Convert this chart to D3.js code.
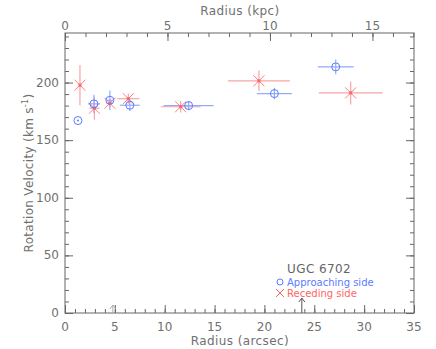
<!DOCTYPE html>
<html>
<head>
<meta charset="utf-8">
<script src="https://cdn.jsdelivr.net/npm/d3@7"></script>
<style>
  body { margin: 0; background: #fff; }
  svg text { font-family: "DejaVu Sans", sans-serif; fill: #707070; }
</style>
</head>
<body>
<div id="chart"></div>
<script>
// approaching side (blue circles)
const appRadius = [1.3, 2.9, 4.5, 6.5, 12.4, 21.0, 27.15];
const appVel    = [167, 181.5, 184.6, 180.3, 180, 190.4, 213.6];
const appErrR   = [0, 0.6, 0.3, 1.0, 2.5, 1.75, 1.8];
const appErrV   = [0, 8, 8.5, 5, 4, 5, 6.5];

// receding side (red crosses)
const recRadius = [1.5, 2.95, 4.5, 6.35, 11.6, 19.45, 28.65];
const recVel    = [197.7, 177.7, 182, 186, 179, 201.5, 191];
const recErrR   = [0, 0.5, 0.3, 1.1, 2.0, 3.1, 3.2];
const recErrV   = [17.5, 10, 3.5, 4.5, 5, 9, 10];

const kpcPerArcsec = 0.4865;
const xTicks = [0, 5, 10, 15, 20, 25, 30, 35];
const kpcTicks = [0, 5, 10, 15];
const yTicks = [0, 50, 100, 150, 200];
const arrowsGray = [4.8];
const arrowsDark = [23.75];

const width = 436, height = 349;
const margin = {left: 65, right: 22, top: 33, bottom: 36};

const svg = d3.select("#chart").append("svg")
    .attr("width", width)
    .attr("height", height);

const x = d3.scaleLinear().domain([0, 35]).range([margin.left, width - margin.right]);
const xk = d3.scaleLinear().domain([0, 35 * kpcPerArcsec]).range([margin.left, width - margin.right]);
const y = d3.scaleLinear().domain([0, 243]).range([height - margin.bottom, margin.top]);

const axisColor = "#666";

// frame
svg.append("rect")
    .attr("x", margin.left).attr("y", margin.top)
    .attr("width", width - margin.left - margin.right)
    .attr("height", height - margin.top - margin.bottom)
    .attr("fill", "none").attr("stroke", axisColor).attr("stroke-width", 1);

// bottom axis (ticks inward)
svg.append("g")
    .attr("transform", "translate(0," + y(0) + ")")
    .call(d3.axisTop(x).tickValues(d3.range(0, 36, 1)).tickSize(4).tickFormat(""))
    .call(g => g.select(".domain").remove());
svg.append("g")
    .attr("transform", "translate(0," + y(0) + ")")
    .call(d3.axisTop(x).tickValues(xTicks).tickSize(8).tickFormat(""))
    .call(g => g.select(".domain").remove());
svg.selectAll(".xlab").data(xTicks).enter().append("text")
    .attr("x", d => x(d)).attr("y", y(0) + 18)
    .attr("text-anchor", "middle").style("font-size", "12px")
    .text(d => d);

// top axis in kpc
svg.append("g")
    .attr("transform", "translate(0," + margin.top + ")")
    .call(d3.axisBottom(xk).tickValues(d3.range(0, 18, 1)).tickSize(4).tickFormat(""))
    .call(g => g.select(".domain").remove());
svg.append("g")
    .attr("transform", "translate(0," + margin.top + ")")
    .call(d3.axisBottom(xk).tickValues(kpcTicks).tickSize(8).tickFormat(""))
    .call(g => g.select(".domain").remove());
svg.selectAll(".klab").data(kpcTicks).enter().append("text")
    .attr("x", d => xk(d)).attr("y", margin.top - 3)
    .attr("text-anchor", "middle").style("font-size", "12px")
    .text(d => d);

// left / right axes
[[margin.left, d3.axisRight], [width - margin.right, d3.axisLeft]].forEach(([px, ax]) => {
    svg.append("g")
        .attr("transform", "translate(" + px + ",0)")
        .call(ax(y).tickValues(d3.range(0, 241, 10)).tickSize(4).tickFormat(""))
        .call(g => g.select(".domain").remove());
    svg.append("g")
        .attr("transform", "translate(" + px + ",0)")
        .call(ax(y).tickValues(yTicks).tickSize(8).tickFormat(""))
        .call(g => g.select(".domain").remove());
});
svg.selectAll(".ylab").data(yTicks).enter().append("text")
    .attr("x", margin.left - 6).attr("y", d => y(d) + 4)
    .attr("text-anchor", "end").style("font-size", "12px")
    .text(d => d);
svg.selectAll(".tick line").attr("stroke", axisColor);

// axis titles
svg.append("text").attr("x", 240).attr("y", 15)
    .attr("text-anchor", "middle").style("font-size", "12px")
    .style("letter-spacing", "0.4px").text("Radius (kpc)");
svg.append("text").attr("x", 240).attr("y", 345)
    .attr("text-anchor", "middle").style("font-size", "12px")
    .style("letter-spacing", "0.4px").text("Radius (arcsec)");
const yt = svg.append("text")
    .attr("transform", "translate(33," + (margin.top + (height - margin.top - margin.bottom) / 2) + ") rotate(-90)")
    .attr("text-anchor", "middle").style("font-size", "12px")
    .style("letter-spacing", "0.3px");
yt.append("tspan").text("Rotation Velocity (km s");
yt.append("tspan").attr("dy", -5).style("font-size", "8px").text("-1");
yt.append("tspan").attr("dy", 5).text(")");

const blue = "#5a7cff", blueLight = "#93aaff";
const red = "#ff6464", redLight = "#f7a4a4";

// error bars
function errBars(rs, vs, er, ev, col) {
    const g = svg.append("g").attr("stroke", col).attr("stroke-width", 1.2);
    rs.forEach((r, i) => {
        if (er[i] > 0) g.append("line")
            .attr("x1", x(r - er[i])).attr("x2", x(r + er[i]))
            .attr("y1", y(vs[i])).attr("y2", y(vs[i]));
        if (ev[i] > 0) g.append("line")
            .attr("x1", x(r)).attr("x2", x(r))
            .attr("y1", y(vs[i] - ev[i])).attr("y2", y(vs[i] + ev[i]));
    });
}
errBars(recRadius, recVel, recErrR, recErrV, redLight);
errBars(appRadius, appVel, appErrR, appErrV, blueLight);

// receding crosses
const rec = svg.append("g");
recRadius.forEach((r, i) => {
    const cx = x(r), cy = y(recVel[i]), s = 5.5;
    rec.append("path")
        .attr("d", `M${cx - s},${cy - s}L${cx + s},${cy + s}M${cx - s},${cy + s}L${cx + s},${cy - s}`)
        .attr("stroke", "#ff8080").attr("stroke-width", 1).attr("fill", "none");
    rec.append("rect").attr("x", cx - 1.5).attr("y", cy - 1.5)
        .attr("width", 3).attr("height", 3).attr("fill", red);
});

// approaching circles
const app = svg.append("g");
appRadius.forEach((r, i) => {
    app.append("circle")
        .attr("cx", x(r)).attr("cy", y(appVel[i])).attr("r", 4)
        .attr("fill", "none").attr("stroke", blue).attr("stroke-width", 1);
});
app.append("circle").attr("cx", x(appRadius[0])).attr("cy", y(appVel[0]))
    .attr("r", 1).attr("fill", blue);

// arrows at the bottom
function arrow(r, len, col) {
    const ax = x(r), y0 = y(0), y1 = y0 - len;
    svg.append("path")
        .attr("d", `M${ax},${y0}L${ax},${y1}M${ax - 3},${y1 + 4}L${ax},${y1}L${ax + 3},${y1 + 4}`)
        .attr("stroke", col).attr("fill", "none").attr("stroke-width", 1);
}
arrowsGray.forEach(r => arrow(r, 8, "#aaa"));
arrowsDark.forEach(r => arrow(r, 15, "#555"));

// legend
svg.append("text").attr("x", 287).attr("y", 273).style("font-size", "12px")
    .style("fill", "#666").style("letter-spacing", "0.4px").text("UGC 6702");
svg.append("circle").attr("cx", 280).attr("cy", 282).attr("r", 3)
    .attr("fill", "none").attr("stroke", blue);
svg.append("text").attr("x", 287).attr("y", 286).style("font-size", "10px")
    .style("fill", blue).text("Approaching side");
svg.append("path").attr("d", "M276,289L284,297M276,297L284,289")
    .attr("stroke", red).attr("fill", "none");
svg.append("text").attr("x", 287).attr("y", 297).style("font-size", "10px")
    .style("fill", red).text("Receding side");
</script>
</body>
</html>
